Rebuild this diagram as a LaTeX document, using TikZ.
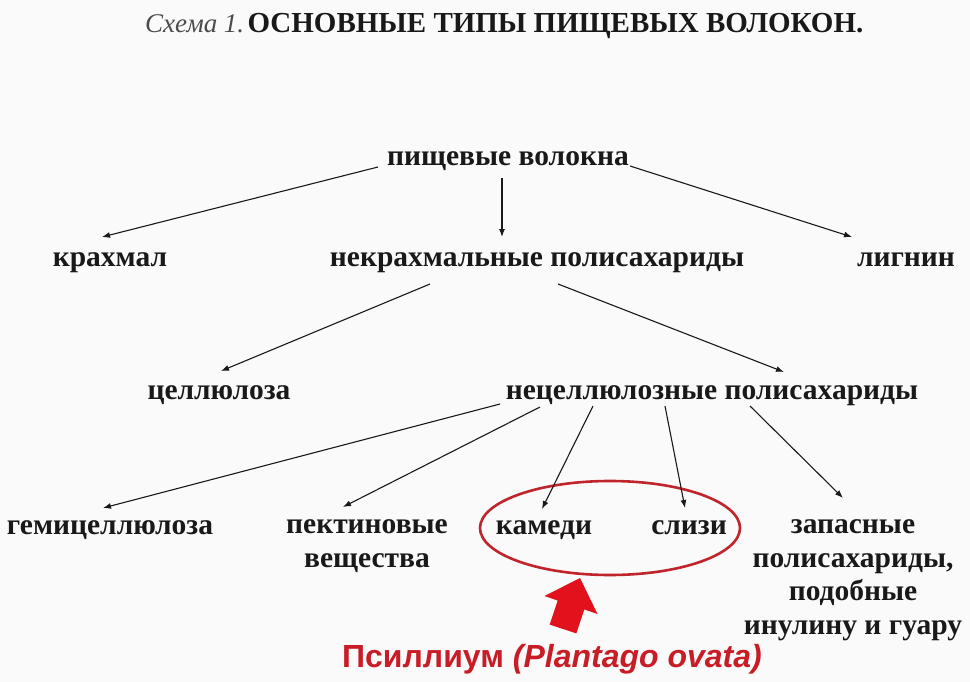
\documentclass[tikz,border=0pt]{standalone}
\usepackage{fontspec}
\setmainfont{Liberation Serif}
\newfontfamily\redsans{Liberation Sans}
\usetikzlibrary{arrows.meta,shapes.geometric}
\definecolor{bgc}{RGB}{250,250,250}
\definecolor{ink}{RGB}{25,25,25}
\definecolor{ovred}{RGB}{192,36,44}
\definecolor{psired}{RGB}{200,28,38}
\definecolor{arrred}{RGB}{226,18,28}
\tikzset{
  lbl/.style={inner sep=0pt, anchor=base, text=ink, font=\bfseries\fontsize{29.5}{33.5}\selectfont},
  arr/.style={draw=ink, line width=1.1pt, -{Latex[length=8pt,width=6pt]}},
}
\begin{document}
\begin{tikzpicture}[x=1pt,y=-1pt]
\fill[bgc] (0,0) rectangle (970,682);
\useasboundingbox (0,0) rectangle (970,682);

\node[inner sep=0pt, anchor=base west, text=ink] (title) at (145,33)
  {{\color{black!70}\itshape\fontsize{27}{30}\selectfont Схема 1.} {\bfseries\fontsize{29}{30}\selectfont ОСНОВНЫЕ ТИПЫ ПИЩЕВЫХ ВОЛОКОН.}};

\node[lbl] (pv)  at (508,166) {пищевые волокна};
\node[lbl] (kr)  at (110,266) {крахмал};
\node[lbl] (nkp) at (537,266) {некрахмальные полисахариды};
\node[lbl] (lig) at (906,266) {лигнин};
\node[lbl] (cel) at (219,399) {целлюлоза};
\node[lbl] (ncp) at (712,399) {нецеллюлозные полисахариды};
\node[lbl] (gem) at (110,534) {гемицеллюлоза};
\node[lbl, align=center] (pek) at (367,567) {пектиновые\\вещества};
\node[lbl] (kam) at (544,534) {камеди};
\node[lbl] (sli) at (689,534) {слизи};
\node[lbl, align=center] (zap) at (853,634) {запасные\\полисахариды,\\подобные\\инулину и гуару};

\node[draw=ovred, line width=2.6pt, ellipse, minimum width=260pt, minimum height=94pt, inner sep=0pt] (ell) at (610,528) {};

\node[inner sep=0pt, anchor=base, text=psired, font=\redsans\bfseries\fontsize{32}{36}\selectfont] (psi) at (552,667) {Псиллиум \itshape(Plantago ovata)};

% red block arrow
\fill[arrred] (580,578) -- (597.5,614) -- (584.3,609.4) -- (576.3,633.4) -- (549.7,624.6) -- (557.7,600.6) -- (544.5,596) -- cycle;

\draw[arr] ([shift={(-130,1)}]pv.base) -- ([shift={(-8,-29)}]kr.base);
\draw[arr] ([shift={(-6,12)}]pv.base) -- ([shift={(-35,-29)}]nkp.base);
\draw[arr] ([shift={(122,0)}]pv.base) -- ([shift={(-54,-29)}]lig.base);
\draw[arr] ([shift={(-107,18)}]nkp.base) -- ([shift={(2,-28)}]cel.base);
\draw[arr] ([shift={(21,18)}]nkp.base) -- ([shift={(72,-27)}]ncp.base);
\draw[arr] ([shift={(-212,5)}]ncp.base) -- ([shift={(-7,-26)}]gem.base);
\draw[arr] ([shift={(-172,8)}]ncp.base) -- ([shift={(-24,-60)}]pek.base);
\draw[arr] ([shift={(-119,7)}]ncp.base) -- ([shift={(-2,-25)}]kam.base);
\draw[arr] ([shift={(-47,7)}]ncp.base) -- ([shift={(-4,-26)}]sli.base);
\draw[arr] ([shift={(38,7)}]ncp.base) -- ([shift={(-10,-136)}]zap.base);
\end{tikzpicture}
\end{document}
